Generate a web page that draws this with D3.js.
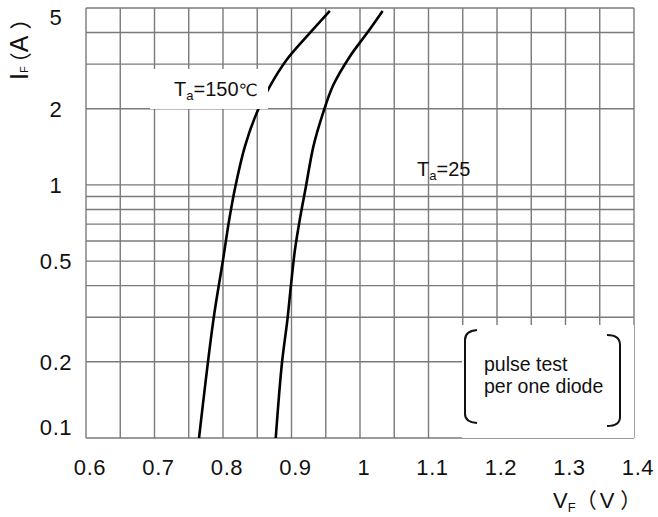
<!DOCTYPE html>
<html>
<head>
<meta charset="utf-8">
<script src="https://cdn.jsdelivr.net/npm/d3@7"></script>
<style>
  html, body { margin: 0; padding: 0; background: #fff; }
  svg { display: block; }
  text { font-family: "Liberation Sans", Arial, sans-serif; fill: #111; }
</style>
</head>
<body>
<svg id="chart" width="658" height="517"></svg>
<script>
// ---- data ----
const xTicks = [0.6, 0.7, 0.8, 0.9, 1.0, 1.1, 1.2, 1.3, 1.4];
const xTickLabels = ["0.6", "0.7", "0.8", "0.9", "1", "1.1", "1.2", "1.3", "1.4"];
const xGrid = [0.6, 0.65, 0.7, 0.75, 0.8, 0.85, 0.9, 0.95, 1.0, 1.05, 1.1, 1.15, 1.2, 1.25, 1.3, 1.35, 1.4];
const yTicks = [0.1, 0.2, 0.5, 1, 2, 5];
const yTickLabels = ["0.1", "0.2", "0.5", "1", "2", "5"];
const yGrid = [0.1, 0.2, 0.3, 0.4, 0.5, 0.6, 0.7, 0.8, 0.9, 1, 2, 3, 4, 5];

const vf150 = [0.765, 0.786, 0.800, 0.809, 0.818, 0.832, 0.849, 0.868, 0.893, 0.922, 0.956];
const if150 = [0.1, 0.293, 0.505, 0.727, 0.984, 1.42, 1.92, 2.44, 3.12, 3.85, 4.87];
const vf25 = [0.877, 0.886, 0.894, 0.899, 0.905, 0.912, 0.921, 0.932, 0.946, 0.961, 0.985, 1.010, 1.033];
const if25 = [0.1, 0.197, 0.293, 0.396, 0.553, 0.727, 0.984, 1.42, 1.92, 2.48, 3.21, 3.97, 4.87];

// ---- layout ----
const L = 86, R = 634, T = 8, B = 438;
const svg = d3.select("#chart");
const x = d3.scaleLinear().domain([0.6, 1.4]).range([L, R]);
const y = d3.scaleLog().domain([0.1, 5]).range([B, T]);

const grid = svg.append("g");
grid.selectAll("line.v").data(xGrid).join("line")
  .attr("x1", d => x(d)).attr("x2", d => x(d))
  .attr("y1", T).attr("y2", B)
  .attr("stroke", "#7a7a7a").attr("stroke-width", 1.4);
grid.selectAll("line.h").data(yGrid).join("line")
  .attr("x1", L).attr("x2", R)
  .attr("y1", d => y(d)).attr("y2", d => y(d))
  .attr("stroke", "#7a7a7a").attr("stroke-width", 1.4);

// curves
const line = d3.line().x(d => x(d[0])).y(d => y(d[1])).curve(d3.curveCatmullRom.alpha(0.5));
const series = [d3.zip(vf150, if150), d3.zip(vf25, if25)];
svg.append("g").selectAll("path").data(series).join("path")
  .attr("d", line).attr("fill", "none")
  .attr("stroke", "#000").attr("stroke-width", 2.6);

// label 150
svg.append("rect").attr("x", 150).attr("y", 69).attr("width", 118).attr("height", 40).attr("fill", "#fff");
const t150 = svg.append("text").attr("x", 174).attr("y", 96).attr("font-size", 20);
t150.append("tspan").text("T");
t150.append("tspan").attr("font-size", 13).attr("dy", 4).text("a");
t150.append("tspan").attr("dy", -4).text("=150");
t150.append("tspan").attr("font-family", "'DejaVu Sans', sans-serif").attr("font-size", 17).text("℃");

const t25 = svg.append("text").attr("x", 417).attr("y", 176).attr("font-size", 20);
t25.append("tspan").text("T");
t25.append("tspan").attr("font-size", 13).attr("dy", 4).text("a");
t25.append("tspan").attr("dy", -4).text("=25");

// pulse test box
svg.append("rect").attr("x", 462).attr("y", 325).attr("width", R - 462).attr("height", B - 325).attr("fill", "#fff");
svg.append("path").attr("d", "M477,330 Q465,331 465,340 L465,414 Q465,422 477,423")
  .attr("fill", "none").attr("stroke", "#111").attr("stroke-width", 2);
svg.append("path").attr("d", "M607,335 Q620,335 620,345 L620,417 Q620,426 607,426")
  .attr("fill", "none").attr("stroke", "#111").attr("stroke-width", 2);
svg.append("text").attr("x", 484).attr("y", 371).attr("font-size", 19.5).text("pulse test");
svg.append("text").attr("x", 484).attr("y", 393).attr("font-size", 19.5).text("per one diode");

// axes ticks
svg.append("g").selectAll("text").data(xTicks).join("text")
  .attr("x", d => x(d) + 4).attr("y", 475)
  .attr("text-anchor", "middle").attr("font-size", 22).attr("letter-spacing", 0.6)
  .text((d, i) => xTickLabels[i]);
svg.append("g").selectAll("text").data(yTicks).join("text")
  .attr("x", 56).attr("y", d => Math.max(17, Math.min(427, y(d))) + 8)
  .attr("text-anchor", "middle").attr("font-size", 22).attr("letter-spacing", 0.6)
  .text((d, i) => yTickLabels[i]);

// axis titles
const xt = svg.append("text").attr("x", 553).attr("y", 508).attr("font-size", 22);
xt.append("tspan").text("V");
xt.append("tspan").attr("font-size", 13).attr("dy", 4).text("F");
xt.append("tspan").attr("dy", -4).attr("font-family", "'Noto Sans CJK SC', sans-serif").attr("font-size", 21).text("（");
xt.append("tspan").attr("dx", 3).text("V");
xt.append("tspan").attr("dx", 6).attr("font-family", "'Noto Sans CJK SC', sans-serif").attr("font-size", 21).text("）");

const yt = svg.append("text").attr("transform", "translate(28,80) rotate(-90)").attr("font-size", 25);
yt.append("tspan").text("I");
yt.append("tspan").attr("font-size", 11).attr("dy", 0).text("F");
yt.append("tspan").attr("dx", -8).attr("font-family", "'Noto Sans CJK SC', sans-serif").attr("font-size", 22).text("（");
yt.append("tspan").text("A");
yt.append("tspan").attr("dx", 6).attr("font-family", "'Noto Sans CJK SC', sans-serif").attr("font-size", 22).text("）");
</script>
</body>
</html>
